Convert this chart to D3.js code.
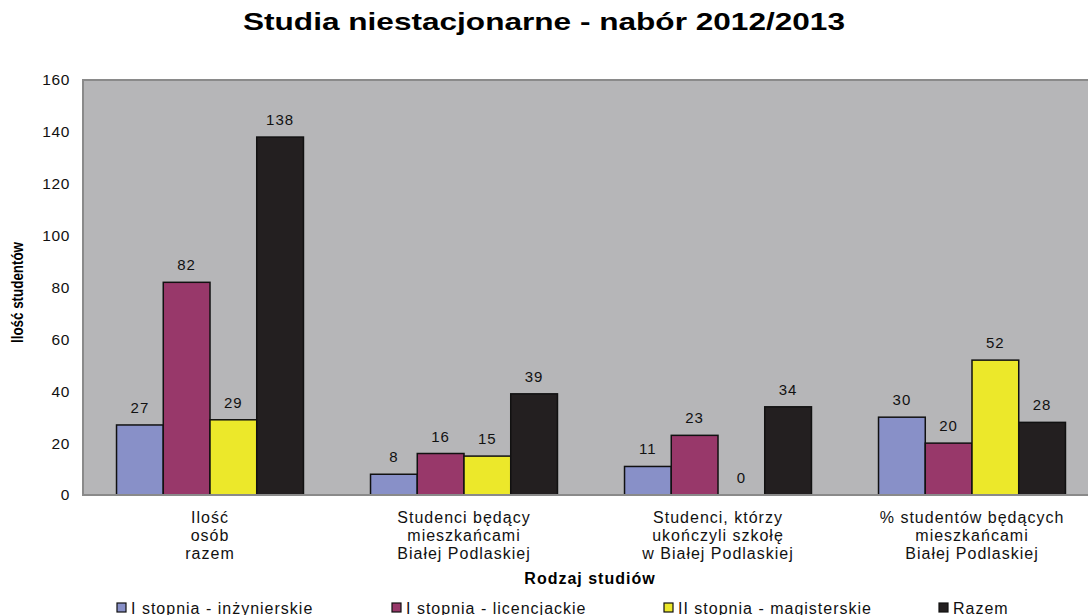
<!DOCTYPE html>
<html lang="pl">
<head>
<meta charset="UTF-8">
<title>Studia niestacjonarne - nabór 2012/2013</title>
<script src="https://cdn.jsdelivr.net/npm/d3@7"></script>
<style>
  body { margin: 0; background: #fff; }
  svg { display: block; font-family: "Liberation Sans", Arial, sans-serif; }
</style>
</head>
<body>
<script>
  const categories = [
    ["Ilość", "osób", "razem"],
    ["Studenci będący", "mieszkańcami", "Białej Podlaskiej"],
    ["Studenci, którzy", "ukończyli szkołę", "w Białej Podlaskiej"],
    ["% studentów będących", "mieszkańcami", "Białej Podlaskiej"]
  ];
  const seriesNames = ["I stopnia - inżynierskie", "I stopnia - licencjackie", "II stopnia - magisterskie", "Razem"];
  const seriesColors = ["#8890c8", "#98386a", "#ece82a", "#231f20"];
  const inzynierskie = [27, 8, 11, 30];
  const licencjackie = [82, 16, 23, 20];
  const magisterskie = [29, 15, 0, 52];
  const razem = [138, 39, 34, 28];
  const yTicks = [0, 20, 40, 60, 80, 100, 120, 140, 160];

  const series = [inzynierskie, licencjackie, magisterskie, razem];

  const width = 1088, height = 615;
  const margin = {left: 83, top: 80, right: -11, bottom: 120};
  const plotW = width - margin.left - margin.right;
  const plotH = height - margin.top - margin.bottom;

  const svg = d3.select("body").append("svg")
      .attr("width", width)
      .attr("height", height);

  svg.append("text")
      .attr("x", 243)
      .attr("y", 30)
      .attr("textLength", 602)
      .attr("lengthAdjust", "spacingAndGlyphs")
      .style("font-size", "24px")
      .style("font-weight", "bold")
      .text("Studia niestacjonarne - nabór 2012/2013");

  const x0 = d3.scaleBand()
      .domain(d3.range(categories.length))
      .range([0, plotW]);

  const x1 = d3.scaleBand()
      .domain(d3.range(series.length))
      .range([0, x0.bandwidth() * 0.736])
      .padding(0);

  const y = d3.scaleLinear()
      .domain([0, 160])
      .range([plotH, 0]);

  const g = svg.append("g")
      .attr("transform", `translate(${margin.left},${margin.top})`);

  g.append("rect")
      .attr("width", plotW)
      .attr("height", plotH)
      .attr("fill", "#b6b6b8")
      .attr("stroke", "#8a8a8a")
      .attr("stroke-width", 2);

  // y axis
  const yAxis = g.append("g")
      .call(d3.axisLeft(y).tickValues(yTicks).tickSize(0).tickPadding(13));
  yAxis.select(".domain").remove();
  yAxis.selectAll("text")
      .style("font-size", "15.5px")
      .style("letter-spacing", "0.6px")
      .style("font-family", "Liberation Sans, Arial, sans-serif")
      .attr("fill", "#111");

  const groupOffset = (x0.bandwidth() - x1.range()[1]) / 2;

  const groups = g.selectAll(".grp")
      .data(categories)
      .enter().append("g")
      .attr("class", "grp")
      .attr("transform", (d, i) => `translate(${x0(i) + groupOffset},0)`);

  groups.each(function(cat, ci) {
    const grp = d3.select(this);
    series.forEach((vals, si) => {
      const v = vals[ci];
      if (v > 0) {
        grp.append("rect")
            .attr("x", x1(si))
            .attr("y", y(v))
            .attr("width", x1.bandwidth())
            .attr("height", plotH - y(v))
            .attr("fill", seriesColors[si])
            .attr("stroke", "#111")
            .attr("stroke-width", 1.5);
      }
      grp.append("text")
          .attr("x", x1(si) + x1.bandwidth() / 2)
          .attr("y", y(v) - 12)
          .attr("text-anchor", "middle")
          .style("font-size", "15px")
          .style("letter-spacing", "1px")
          .attr("fill", "#111")
          .text(v);
    });
  });

  // bottom axis line
  g.append("line")
      .attr("x1", 0).attr("x2", plotW)
      .attr("y1", plotH).attr("y2", plotH)
      .attr("stroke", "#8a8a8a")
      .attr("stroke-width", 2);

  // category labels
  categories.forEach((lines, i) => {
    const t = g.append("text")
        .attr("text-anchor", "middle")
        .attr("transform", `translate(${x0(i) + x0.bandwidth() / 2},${plotH + 28})`)
        .style("font-size", "16px")
        .style("letter-spacing", "1px")
        .attr("fill", "#111");
    lines.forEach((ln, k) => {
      t.append("tspan").attr("x", 0).attr("y", k * 18).text(ln);
    });
  });

  svg.append("text")
      .attr("x", 590)
      .attr("y", 584)
      .attr("text-anchor", "middle")
      .style("font-size", "16px")
      .style("letter-spacing", "1px")
      .style("font-weight", "bold")
      .text("Rodzaj studiów");

  svg.append("text")
      .attr("transform", `translate(23,343) rotate(-90)`)
      .attr("textLength", 101)
      .attr("lengthAdjust", "spacingAndGlyphs")
      .style("font-size", "16px")
      .style("font-weight", "bold")
      .text("Ilość studentów");

  // legend
  const legendX = [117, 392, 664, 939];
  const legend = svg.selectAll(".leg")
      .data(seriesNames)
      .enter().append("g")
      .attr("class", "leg")
      .attr("transform", (d, i) => `translate(${legendX[i]},603)`);
  legend.append("rect")
      .attr("width", 9).attr("height", 9)
      .attr("fill", (d, i) => seriesColors[i])
      .attr("stroke", "#111")
      .attr("stroke-width", 1.2);
  legend.append("text")
      .attr("x", 14)
      .attr("y", 11)
      .style("font-size", "16px")
      .style("letter-spacing", "1px")
      .attr("fill", "#111")
      .text(d => d);
</script>
</body>
</html>
